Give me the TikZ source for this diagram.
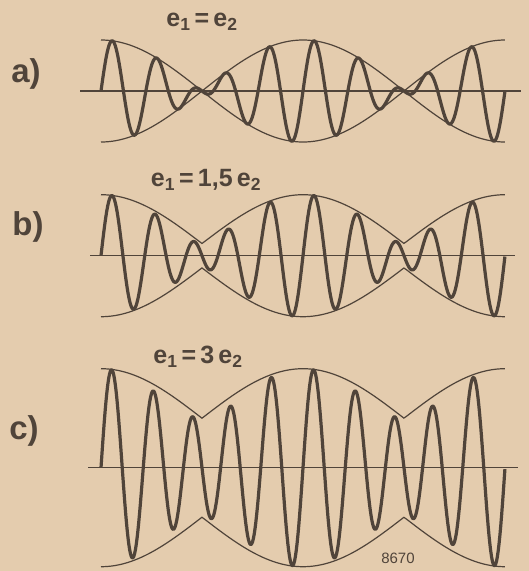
\documentclass[tikz,border=0pt]{standalone}
\usepackage{fontspec}
\setmainfont{Liberation Sans}
\usepackage{tikz}
\definecolor{papier}{RGB}{228,204,174}
\definecolor{tinta}{RGB}{80,68,58}

\begin{document}
\begin{tikzpicture}[x=1pt,y=-1pt,
    gelombang/.style={tinta,line width=3.2pt,line join=round},
    selubung/.style={tinta,line width=1.2pt},
    sumbu/.style={tinta,line width=1.3pt},
    huruf/.style={tinta,inner sep=0pt,font=\fontsize{33}{38}\selectfont\bfseries},
    rumus/.style={tinta,inner sep=0pt,font=\fontsize{25}{30}\selectfont\bfseries}]

    % Latar kertas dan batas gambar
    \fill[papier] (0,0) rectangle (529,571);
    \useasboundingbox (0,0) rectangle (529,571);

    % Tiap panel: sumbu, dua garis selubung, lalu gelombang jumlahan e1 dan e2
    \foreach \ys/\ea/\eb/\xa/\xb in {91/25.5/25.5/80/521, 255.7/36.6/24.4/90/515, 467.7/74.25/24.75/88/518} {
        \draw[sumbu] (\xa,\ys) -- (\xb,\ys);
        \draw[selubung] plot[domain=0:2,samples=201] ({101+202*\x},{\ys-(\ea-\eb)-2*\eb*abs(cos(180*\x))});
        \draw[selubung] plot[domain=0:2,samples=201] ({101+202*\x},{\ys+(\ea-\eb)+2*\eb*abs(cos(180*\x))});
        \draw[gelombang] plot[domain=0:2,samples=481] ({101+202*\x},{\ys-\ea*sin(1800*\x)-\eb*sin(1440*\x)});
    }

    % Huruf panel
    \node[huruf] (la) at (26,74) {a)};
    \node[huruf] (lb) at (28,227) {b)};
    \node[huruf] (lc) at (24,431) {c)};

    % Perbandingan amplitudo di atas tiap panel
    \node[rumus] (ra) at (202,22) {e\textsubscript{1}\,=\,e\textsubscript{2}};
    \node[rumus] (rb) at (206,180) {e\textsubscript{1}\,=\,1,5\,e\textsubscript{2}};
    \node[rumus] (rc) at (198,357) {e\textsubscript{1}\,=\,3\,e\textsubscript{2}};

    % Nomor gambar
    \node[tinta,inner sep=0pt,font=\fontsize{15}{18}\selectfont] (nomor) at (398,558) {8670};

\end{tikzpicture}
\end{document}
